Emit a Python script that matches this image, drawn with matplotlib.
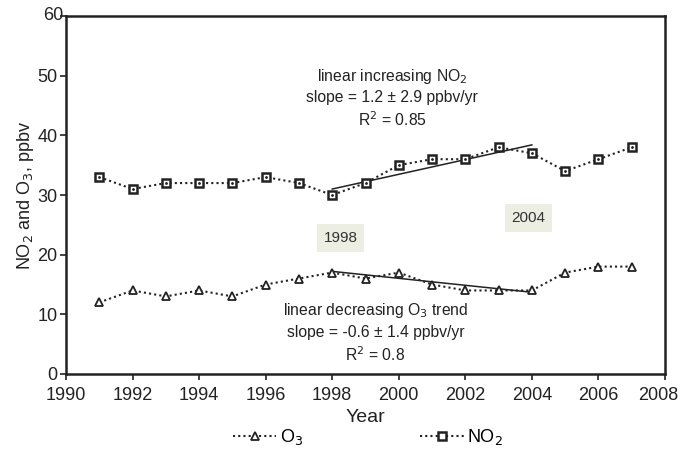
import numpy as np
import matplotlib.pyplot as plt
import matplotlib.transforms as mtransforms
from matplotlib.lines import Line2D

plt.rcParams['font.family'] = ['Liberation Sans', 'DejaVu Sans']

years = [1991, 1992, 1993, 1994, 1995, 1996, 1997, 1998, 1999,
         2000, 2001, 2002, 2003, 2004, 2005, 2006, 2007]
no2 = [33, 31, 32, 32, 32, 33, 32, 30, 32, 35, 36, 36, 38, 37, 34, 36, 38]
o3 = [12, 14, 13, 14, 13, 15, 16, 17, 16, 17, 15, 14, 14, 14, 17, 18, 18]

# trend segments 1998-2004
trend_years = [1998, 2004]
no2_trend = [31.0, 38.4]
o3_trend = [17.2, 13.7]

fig = plt.figure(figsize=(6.81, 4.53), dpi=100)
ax = fig.add_axes([66 / 681, 1 - 374 / 453, 599 / 681, 358 / 453])

ax.plot(years, no2, linestyle=(0, (1, 1.5)), color='#222222', lw=1.5,
        marker='s', ms=5.5, mfc='white', mec='#222222', mew=1.8, zorder=3)
ax.plot(years, no2, linestyle='none', marker='.', ms=2, color='#222222', zorder=4)
ax.plot(years, o3, linestyle=(0, (1, 1.5)), color='#222222', lw=1.5,
        marker='^', ms=6, mfc='white', mec='#222222', mew=1.3, zorder=3)
ax.plot(trend_years, no2_trend, color='#222222', lw=1.1, zorder=2)
ax.plot(trend_years, o3_trend, color='#222222', lw=1.1, zorder=2)

ax.set_xlim(1990, 2008)
ax.set_ylim(0, 60)
ax.set_xticks(range(1990, 2009, 2))
ax.set_yticks(range(0, 61, 10))
ax.set_yticklabels(['0', '10', '20', '30', '40', '50', ''])
ax.tick_params(labelsize=13, length=4, width=1.2, colors='#222222')
ax.tick_params(axis='x', pad=5)
ax.tick_params(axis='y', pad=2)
for s in ax.spines.values():
    s.set_linewidth(1.8)
    s.set_color('#222222')

# keep the last year label inside the figure
last = ax.get_xticklabels()[-1]
last.set_transform(last.get_transform() +
                   mtransforms.ScaledTranslation(-5 / 72, 0, fig.dpi_scale_trans))

ax.text(-0.005, 1.0, '60', transform=ax.transAxes, fontsize=13,
        color='#222222', ha='right', va='center')

ax.set_xlabel('Year', fontsize=14, color='#222222', labelpad=4)
ax.set_ylabel('NO$_2$ and O$_3$, ppbv', fontsize=13, color='#222222', labelpad=1)

tk = dict(fontsize=11.3, color='#222222', ha='center', va='center')
ax.text(1999.8, 49.8, 'linear increasing NO$_2$', **tk)
ax.text(1999.8, 46.3, 'slope = 1.2 ± 2.9 ppbv/yr', **tk)
ax.text(1999.8, 42.6, 'R$^2$ = 0.85', **tk)
ax.text(1999.3, 10.6, 'linear decreasing O$_3$ trend', **tk)
ax.text(1999.3, 7.0, 'slope = -0.6 ± 1.4 ppbv/yr', **tk)
ax.text(1999.3, 3.3, 'R$^2$ = 0.8', **tk)

box = dict(boxstyle='square,pad=0.45', fc='#eceee2', ec='none')
ax.text(1998.25, 22.8, '1998', fontsize=11, color='#333333',
        ha='center', va='center', bbox=box)
ax.text(2003.9, 26.2, '2004', fontsize=11, color='#333333',
        ha='center', va='center', bbox=box)

handles = [
    Line2D([], [], linestyle=(0, (1, 1.5)), color='#222222', lw=1.5,
           marker='^', ms=6, mfc='white', mec='#222222', mew=1.3),
    Line2D([], [], linestyle=(0, (1, 1.5)), color='#222222', lw=1.5,
           marker='s', ms=5.5, mfc='white', mec='#222222', mew=1.8),
]
fig.legend(handles, ['O$_3$', 'NO$_2$'], loc='center',
           bbox_to_anchor=(368 / 681, 1 - 437 / 453), ncol=2, frameon=False,
           fontsize=13, handlelength=2.4, handletextpad=0.2, columnspacing=6.5)

fig.savefig('out.png', dpi=100)
